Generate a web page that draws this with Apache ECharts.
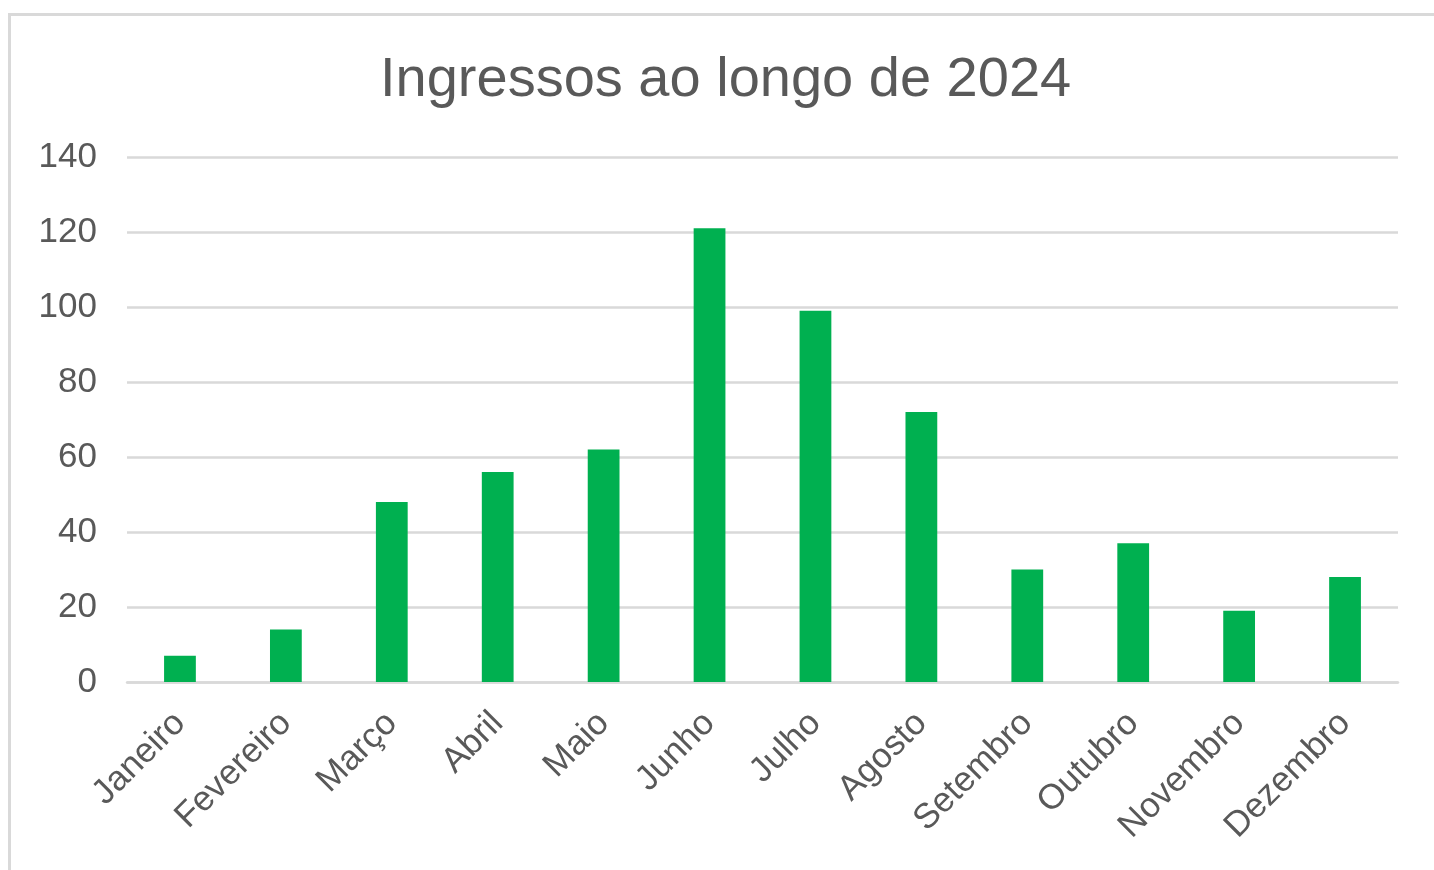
<!DOCTYPE html>
<html>
<head>
<meta charset="utf-8">
<script src="https://cdn.jsdelivr.net/npm/echarts@6/dist/echarts.min.js"></script>
<style>
  html, body { margin: 0; padding: 0; background: #fff; overflow: hidden; }
  .frame {
    position: absolute;
    left: 8px;
    top: 13px;
    width: 1600px;
    height: 1000px;
    border: 3px solid #d9d9d9;
  }
  #chart {
    position: absolute;
    left: 0;
    top: 0;
    width: 1434px;
    height: 870px;
  }
</style>
</head>
<body>
<div class="frame"></div>
<div id="chart"></div>
<script>
// dados
const titulo = 'Ingressos ao longo de 2024'
const meses = ['Janeiro', 'Fevereiro', 'Março', 'Abril', 'Maio', 'Junho',
  'Julho', 'Agosto', 'Setembro', 'Outubro', 'Novembro', 'Dezembro']
const ingressos = [7, 14, 48, 56, 62, 121, 99, 72, 30, 37, 19, 28]
const yMin = 0
const yMax = 140
const yStep = 20

const myChart = echarts.init(document.getElementById('chart'))

const fonte = '"Liberation Sans", Arial, sans-serif'
const cinza = '#595959'
const linha = '#d9d9d9'

const option = {
  backgroundColor: 'transparent',
  animation: false,
  title: {
    text: titulo,
    left: 380,
    top: 53,
    padding: 0,
    textStyle: {
      fontFamily: fonte,
      fontSize: 56,
      fontWeight: 'normal',
      color: cinza
    }
  },
  grid: {
    left: 127,
    right: 36,
    top: 157,
    bottom: 188,
    containLabel: false
  },
  xAxis: {
    type: 'category',
    data: meses,
    axisTick: { show: false },
    axisLine: {
      lineStyle: { color: linha, width: 2.5 }
    },
    axisLabel: {
      rotate: 45,
      interval: 0,
      margin: 36,
      fontFamily: fonte,
      fontSize: 35,
      color: cinza
    }
  },
  yAxis: {
    type: 'value',
    min: yMin,
    max: yMax,
    interval: yStep,
    axisLine: { show: false },
    axisTick: { show: false },
    splitLine: {
      lineStyle: { color: linha, width: 2.5 }
    },
    axisLabel: {
      margin: 30,
      fontFamily: fonte,
      fontSize: 35,
      color: cinza
    }
  },
  series: [
    {
      name: 'Ingressos',
      type: 'bar',
      data: ingressos,
      barWidth: '30%',
      itemStyle: { color: '#00B050' }
    }
  ]
}

option && myChart.setOption(option)
</script>
</body>
</html>
